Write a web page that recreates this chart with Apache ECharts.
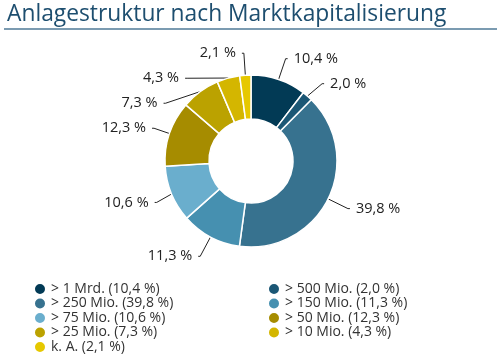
<!DOCTYPE html>
<html><head><meta charset="utf-8">
<script src="https://cdn.jsdelivr.net/npm/echarts@6/dist/echarts.min.js"></script>
<style>html,body{margin:0;padding:0;background:#fff}#c{width:502px;height:358px}</style>
</head><body><div id="c"></div>
<script>
const categories = ['> 1 Mrd.', '> 500 Mio.', '> 250 Mio.', '> 150 Mio.', '> 75 Mio.', '> 50 Mio.', '> 25 Mio.', '> 10 Mio.', 'k. A.'];
const values = [10.4, 2.0, 39.8, 11.3, 10.6, 12.3, 7.3, 4.3, 2.1];
const colors = ['#023a55', '#1b5775', '#37728f', '#4690b0', '#6aaecd', '#a68c00', '#bba200', '#d4b600', '#e6c800'];
const leftLegend = ['> 1 Mrd.', '> 250 Mio.', '> 75 Mio.', '> 25 Mio.', 'k. A.'];
const rightLegend = ['> 500 Mio.', '> 150 Mio.', '> 50 Mio.', '> 10 Mio.'];

const fmt = v => v.toFixed(1).replace('.', ',') + ' %';
const valOf = {};
categories.forEach((c, i) => valOf[c] = values[i]);
const font = '"Open Sans", sans-serif';

const legendBase = {
  orient: 'vertical', icon: 'circle', itemWidth: 12, itemHeight: 12, itemGap: 0.5,
  padding: 0, height: 90,
  textStyle: { fontFamily: font, fontSize: 14, lineHeight: 12, color: '#333', padding: [0, 0, 0, 0] },
  formatter: n => n + ' (' + fmt(valOf[n]) + ')',
  selectedMode: false
};

const chart = echarts.init(document.getElementById('c'), null, { renderer: 'canvas' });
chart.setOption({
  animation: false,
  color: colors,
  title: {
    text: 'Anlagestruktur nach Marktkapitalisierung', left: 2, top: -2,
    textStyle: { fontFamily: font, fontWeight: 'normal', fontSize: 22.8, color: '#1d4e6f' }
  },
  graphic: [{ type: 'rect', shape: { x: 4, y: 28, width: 493, height: 2 }, style: { fill: '#7b9bb1' } }],
  legend: [
    Object.assign({}, legendBase, { data: leftLegend, left: 33, top: 282 }),
    Object.assign({}, legendBase, { data: rightLegend, left: 267, top: 282 })
  ],
  series: [{
    type: 'pie',
    center: [251, 161],
    radius: [42, 86],
    startAngle: 90,
    clockwise: true,
    avoidLabelOverlap: true,
    itemStyle: { borderColor: '#fff', borderWidth: 1.5 },
    label: {
      formatter: p => fmt(p.value),
      fontFamily: font, fontSize: 14.5, lineHeight: 23, color: '#222', distanceToLabelLine: 6
    },
    labelLine: { length: 22, length2: 2, lineStyle: { color: '#222', width: 1 } },
    data: categories.map((c, i) => ({ name: c, value: values[i] }))
  }]
});
</script></body></html>
